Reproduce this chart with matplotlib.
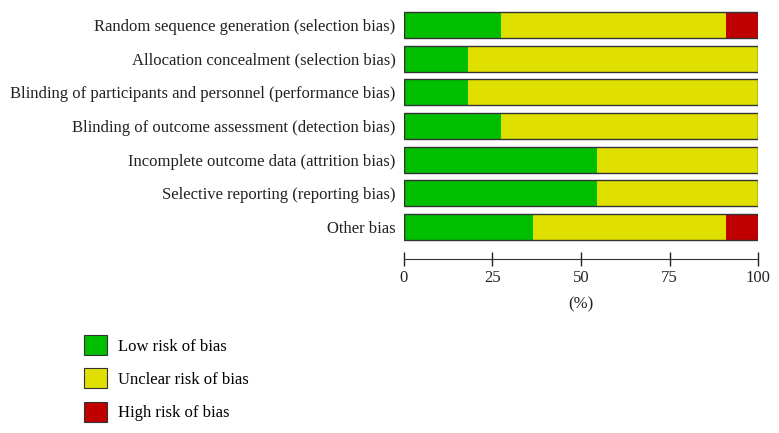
import numpy as np
import matplotlib.pyplot as plt
from matplotlib.patches import Patch

# Data (percent of studies)
kategorie = ["Random sequence generation (selection bias)",
             "Allocation concealment (selection bias)",
             "Blinding of participants and personnel (performance bias)",
             "Blinding of outcome assessment (detection bias)",
             "Incomplete outcome data (attrition bias)",
             "Selective reporting (reporting bias)",
             "Other bias"]
low = [27.3, 18.2, 18.2, 27.3, 54.5, 54.5, 36.4]
unclear = [63.6, 81.8, 81.8, 72.7, 45.5, 45.5, 54.5]
high = [9.1, 0, 0, 0, 0, 0, 9.1]
legenda = ["Low risk of bias", "Unclear risk of bias", "High risk of bias"]
barvy = ["#00bf00", "#e0e000", "#c00000"]

plt.rcParams["font.family"] = ["Liberation Serif", "DejaVu Serif"]

W, H = 779, 433
fig = plt.figure(figsize=(W / 100, H / 100), dpi=100)
ax = fig.add_axes([404 / W, 1 - 244 / H, (758 - 404) / W, (244 - 8) / H])

y = np.arange(len(kategorie))
levo = np.zeros(len(kategorie))
for hodnoty, barva in zip([low, unclear, high], barvy):
    ax.barh(y, hodnoty, left=levo, height=0.77, color=barva,
            edgecolor="none")
    levo += np.array(hodnoty)
# obrys celeho pruhu
ax.barh(y, levo, height=0.77, color="none", edgecolor="#333333", linewidth=1)

ax.set_ylim(len(kategorie) - 0.5, -0.5)
ax.set_xlim(0, 100)
ax.set_yticks(y)
ax.set_yticklabels(kategorie, fontsize=12, color="#222222")
ax.tick_params(axis="y", length=0, pad=6)
ax.set_xticks([0, 25, 50, 75, 100])
ax.tick_params(axis="x", direction="inout", length=10, width=1,
               labelsize=12, pad=3, colors="#222222")
for s in ["top", "right", "left"]:
    ax.spines[s].set_visible(False)
ax.spines["bottom"].set_position(("outward", 11))
ax.spines["bottom"].set_color("#333333")
ax.set_xlabel("(%)", fontsize=12, labelpad=7, color="#222222")

handles = [Patch(facecolor=b, edgecolor="#333333", linewidth=0.8) for b in barvy]
fig.legend(handles, legenda, loc="upper left", bbox_to_anchor=(69 / W, 1 - 320 / H),
           frameon=False, fontsize=12, handlelength=1.38, handleheight=1.47,
           labelspacing=0.8, handletextpad=0.65)

fig.savefig("out.png", dpi=100)
